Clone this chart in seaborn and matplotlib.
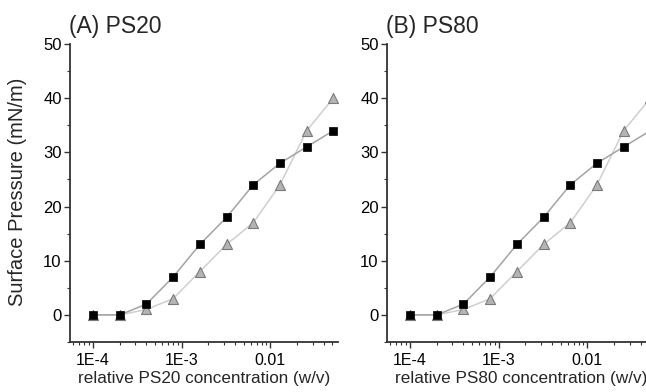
import numpy as np
import pandas as pd
import matplotlib
matplotlib.use("Agg")
import matplotlib.pyplot as plt
import matplotlib.ticker as mticker
import seaborn as sns

# Concentration series (w/v), each step doubles the previous one
concentration = [1e-4, 2e-4, 4e-4, 8e-4, 1.6e-3, 3.2e-3, 6.4e-3, 1.28e-2, 2.56e-2, 5.12e-2]

# Surface pressure (mN/m)
ps20_square = [0, 0, 2, 7, 13, 18, 24, 28, 31, 34]
ps20_triangle = [0, 0, 1, 3, 8, 13, 17, 24, 34, 40]
ps80_square = [0, 0, 2, 7, 13, 18, 24, 28, 31, 34]
ps80_triangle = [0, 0, 1, 3, 8, 13, 17, 24, 34, 40]

panel_titles = ["(A) PS20", "(B) PS80"]
x_labels = ["relative PS20 concentration (w/v)", "relative PS80 concentration (w/v)"]
tick_positions = [1e-4, 1e-3, 1e-2]
tick_labels = ["1E-4", "1E-3", "0.01"]

sns.set_style("ticks")
plt.rcParams["font.family"] = ["Liberation Sans", "DejaVu Sans"]

fig = plt.figure(figsize=(6.46, 3.92), dpi=100)
W, H = 646, 392
ax_w, ax_h = 268, 298
axes = [
    fig.add_axes([70 / W, (H - 342) / H, ax_w / W, ax_h / H]),
    fig.add_axes([387 / W, (H - 342) / H, ax_w / W, ax_h / H]),
]

panels = [(ps20_square, ps20_triangle), (ps80_square, ps80_triangle)]

for i, (ax, (sq, tri)) in enumerate(zip(axes, panels)):
    df_sq = pd.DataFrame({"c": concentration, "p": sq})
    df_tri = pd.DataFrame({"c": concentration, "p": tri})

    sns.lineplot(data=df_tri, x="c", y="p", ax=ax, color="#cfcfcf", lw=1.1,
                 zorder=1)
    sns.lineplot(data=df_sq, x="c", y="p", ax=ax, color="#a3a3a3", lw=1.1,
                 zorder=2)
    sns.scatterplot(data=df_tri, x="c", y="p", ax=ax, marker="^", s=52,
                    color="#b4b4b4", edgecolor="#7a7a7a", linewidth=0.8,
                    zorder=3)
    sns.scatterplot(data=df_sq, x="c", y="p", ax=ax, marker="s", s=32,
                    color="black", edgecolor="black", linewidth=0.5, zorder=4)

    ax.set_xscale("log")
    ax.set_xlim(5.5e-5, 5.78e-2)
    ax.set_ylim(-5, 50)
    ax.set_xticks(tick_positions)
    ax.set_xticklabels(tick_labels)
    ax.xaxis.set_minor_locator(mticker.LogLocator(base=10, subs=np.arange(2, 10)))
    ax.xaxis.set_minor_formatter(mticker.NullFormatter())
    ax.set_yticks([0, 10, 20, 30, 40, 50])
    ax.yaxis.set_minor_locator(mticker.MultipleLocator(5))

    for side in ("top", "right"):
        ax.spines[side].set_visible(False)
    for side in ("left", "bottom"):
        ax.spines[side].set_color("#333333")
        ax.spines[side].set_linewidth(1.3)

    ax.tick_params(which="major", direction="out", length=4, width=1.0,
                   color="#333333", labelcolor="black")
    ax.tick_params(axis="x", which="major", labelsize=11.5, pad=4)
    ax.tick_params(axis="y", which="major", labelsize=12, pad=2)
    ax.tick_params(which="minor", direction="out", length=2, width=0.8,
                   color="#333333")

    ax.set_xlabel(x_labels[i], fontsize=12.3)
    ax.xaxis.set_label_coords(0.5, -(378 - 342) / ax_h)
    ax.xaxis.label.set_va("center")
    ax.set_ylabel("")
    ax.set_title(panel_titles[i], loc="left", fontsize=16.5, pad=8, x=-0.005)

fig.text(18 / W, 1 - 192 / H, "Surface Pressure (mN/m)", rotation=90,
         ha="center", va="center", fontsize=14.5)

fig.savefig("out.png", dpi=100)
